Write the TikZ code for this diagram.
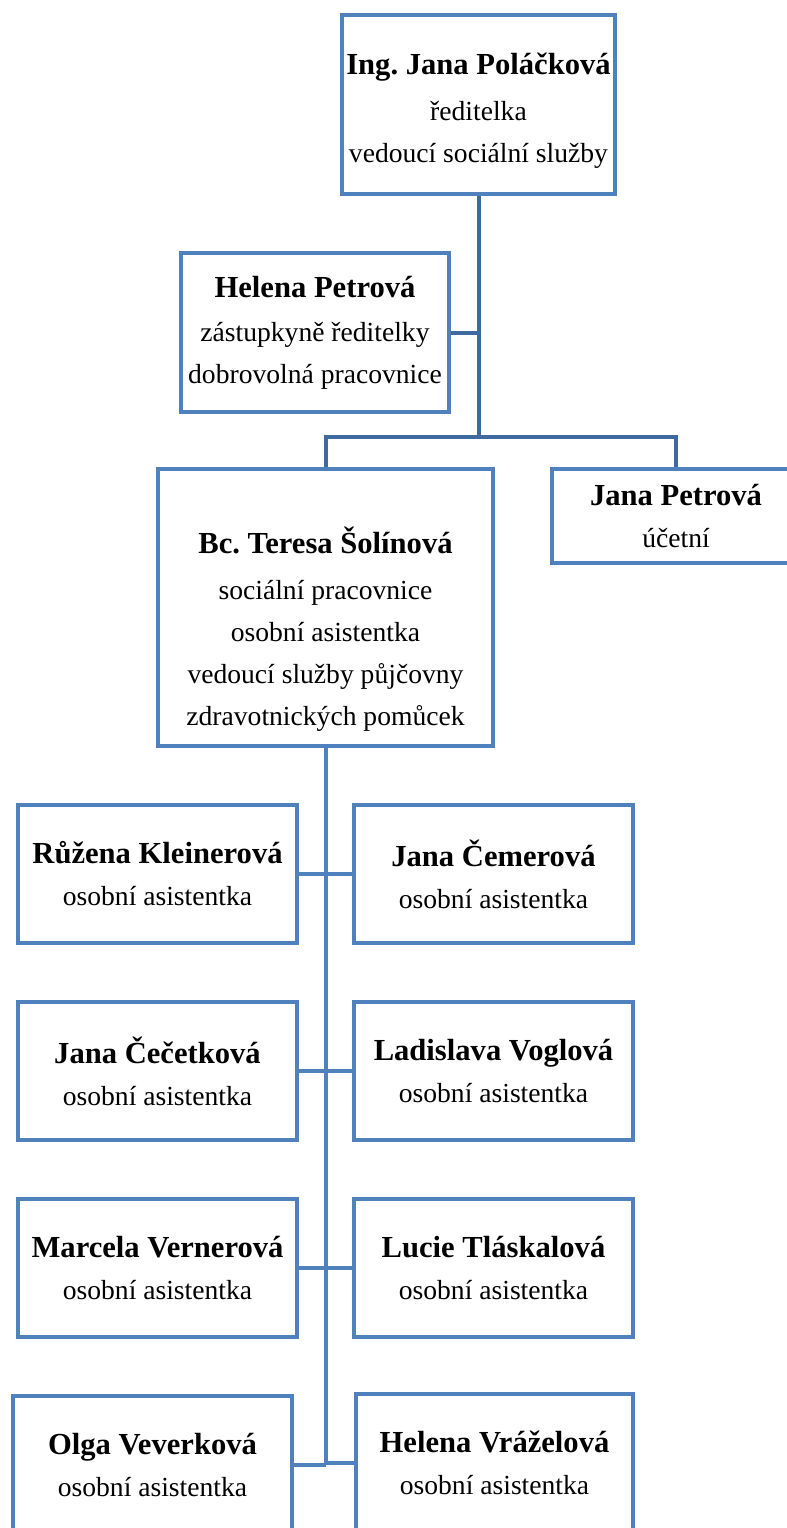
\documentclass[tikz,border=0pt]{standalone}
\usepackage{fontspec}
\setmainfont{Liberation Serif}
\definecolor{boxblue}{RGB}{79, 129, 189}
\definecolor{linkblue}{RGB}{62, 106, 160}
\newcommand{\jmeno}[1]{{\fontsize{15.3}{21}\selectfont\bfseries #1}}

\begin{document}
\begin{tikzpicture}[x=0.5pt, y=-0.5pt,
        osoba/.style={draw=boxblue, line width=2pt, fill=white, align=center, inner sep=0pt,
                      font=\fontsize{13.8}{21}\selectfont},
        asist/.style={osoba, minimum width=139.5pt, minimum height=69pt},
        horni/.style={linkblue, line width=2pt},
        dolni/.style={boxblue, line width=2pt}]
            % Frame to ensure alignment:
            \clip                                                              (0, 0) rectangle (787, 1528);
            % Vedeni
            \node[osoba, minimum width=136.5pt, minimum height=89.5pt] (reditelka) at (478.5, 104.5)
                 {\rule{0pt}{8pt}\\[-12pt] \jmeno{Ing.\ Jana Poláčková}\\[2pt] ředitelka\\ vedoucí sociální služby};
            \node[osoba, minimum width=134pt,   minimum height=79.5pt] (zastupkyne) at (315.0, 332.5)
                 {\jmeno{Helena Petrová}\\[1pt] zástupkyně ředitelky\\ dobrovolná pracovnice};
            \node[osoba, minimum width=167.5pt, minimum height=138.5pt] (teresa) at (325.5, 607.5)
                 {~\\[14pt] \jmeno{Bc.\ Teresa Šolínová}\\[2pt] sociální pracovnice\\ osobní asistentka\\
                  vedoucí služby půjčovny\\ zdravotnických pomůcek};
            \node[osoba, minimum width=124pt,   minimum height=47pt]   (ucetni) at (676.0, 516.0)
                 {\jmeno{Jana Petrová}\\ účetní};
            % Osobni asistentky
            \node[asist] (kleinerova) at (157.5,  874) {\jmeno{Růžena Kleinerová}\\ osobní asistentka};
            \node[asist] (cemerova)   at (493.5,  874) {\jmeno{Jana Čemerová}\\ osobní asistentka};
            \node[asist] (cecetkova)  at (157.5, 1071) {\jmeno{Jana Čečetková}\\ osobní asistentka};
            \node[asist] (voglova)    at (493.5, 1071) {\jmeno{Ladislava Voglová}\\ osobní asistentka};
            \node[asist] (vernerova)  at (157.5, 1268) {\jmeno{Marcela Vernerová}\\ osobní asistentka};
            \node[asist] (tlaskalova) at (493.5, 1268) {\jmeno{Lucie Tláskalová}\\ osobní asistentka};
            \node[asist] (veverkova)  at (152.5, 1465) {\jmeno{Olga Veverková}\\ osobní asistentka};
            \node[asist, minimum width=138.5pt] (vrazelova) at (494.5, 1463) {\jmeno{Helena Vráželová}\\ osobní asistentka};
            % Horni spoje
            \coordinate (rozcesti) at (478.5, 437);
            \draw[horni] (reditelka.south) -- (rozcesti);
            \draw[horni] (zastupkyne.east) -- (zastupkyne.east -| rozcesti);
            \draw[horni] (teresa.north) |- (rozcesti) -| (ucetni.north);
            % Dolni spoje
            \draw[dolni] (teresa.south) -- (teresa.south |- veverkova.east);
            \draw[dolni] (kleinerova.east) -- (cemerova.west);
            \draw[dolni] (cecetkova.east)  -- (voglova.west);
            \draw[dolni] (vernerova.east)  -- (tlaskalova.west);
            \draw[dolni] (veverkova.east)  -- (veverkova.east -| teresa.south);
            \draw[dolni] (vrazelova.west)  -- (vrazelova.west -| teresa.south);
        \end{tikzpicture}
\end{document}
